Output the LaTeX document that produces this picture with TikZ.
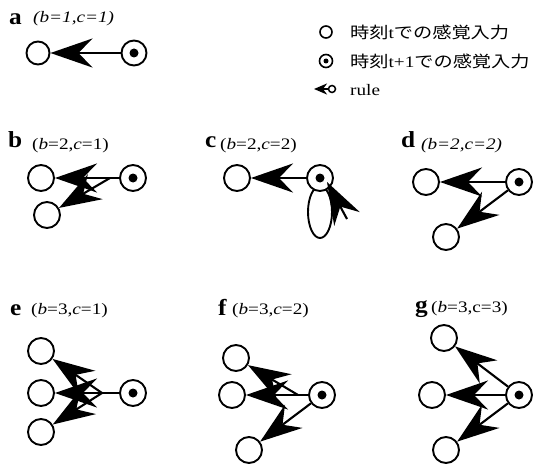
\documentclass[tikz,border=0pt]{standalone}
\usepackage{fontspec}
\usepackage{graphicx}
\setmainfont{Liberation Serif}
\newfontfamily\cjk{Noto Sans CJK JP}
\usetikzlibrary{arrows.meta}
\newcommand\xs[1]{\scalebox{1.2}[1]{#1}}
\newcommand\xl[1]{\scalebox{1.1}[1]{#1}}
\newcommand\prmI[2]{\xs{(\textit{b}=#1,\textit{c}=#2)}}
\newcommand\prmA[2]{\xs{\itshape (b=#1,c=#2)}}
\begin{document}
\begin{tikzpicture}[x=1pt,y=-1pt,
  oc/.style={circle, draw, fill=white, line width=1.9pt, minimum size=26pt, inner sep=0pt},
  dc/.style={oc, label={[circle, fill=black, inner sep=0pt, minimum size=9pt]center:{}}},
  arr/.style={line width=2.1pt, -{Stealth[length=42pt,width=29pt,inset=14pt]}},
  ln/.style={line width=2.1pt},
  lab/.style={anchor=base west, inner sep=0pt, font=\fontsize{23}{23}\selectfont\bfseries},
  prm/.style={anchor=base west, inner sep=0pt, font=\fontsize{16}{16}\selectfont},
  leg/.style={anchor=west, inner sep=0pt, font=\fontsize{16}{16}\selectfont}]
\useasboundingbox (0,0) rectangle (534,465);

% legend
\node[circle, draw, line width=1.6pt, minimum size=12pt, inner sep=0pt] (L1) at (326,32) {};
\node[leg] (T1) at (350,32.5) {\xs{\cjk 時刻{\rmfamily t}での感覚入力}};
\node[circle, draw, line width=1.6pt, minimum size=13pt, inner sep=0pt,
      label={[circle, fill=black, inner sep=0pt, minimum size=5pt]center:{}}] (L2) at (326,61) {};
\node[leg] (T2) at (350,61.5) {\xs{\cjk 時刻{\rmfamily t+1}での感覚入力}};
\node[circle, draw, line width=1.5pt, minimum size=7pt, inner sep=0pt] (L3) at (332,89) {};
\coordinate (L3t) at (314,89);
\draw[line width=1.6pt, -{Stealth[length=13pt,width=11pt,inset=4pt]}] (L3) -- (L3t);
\node[prm] (T3) at (350,96) {\xs{rule}};

% panel a
\node[lab] (la) at (9,25) {\xl{a}};
\node[prm] (pa) at (33,23) {\prmA{1}{1}};
\node[oc, minimum size=23pt] (A1) at (38,53) {};
\node[dc, minimum size=25pt] (A2) at (134,53) {};
\draw[arr] (A2) -- (A1);

% panel b
\node[lab] (lb) at (8,147) {\xl{b}};
\node[prm] (pb) at (32,149) {\prmI{2}{1}};
\node[oc] (B1) at (41,178) {};
\node[oc] (B2) at (47,215) {};
\node[dc] (B3) at (133,178) {};
\coordinate (Bp) at (110,178);
\draw[arr] (B3) -- (B1);
\draw[arr] (Bp) -- (B2);

% panel c
\node[lab] (lc) at (205,147) {\xl{c}};
\node[prm] (pc) at (220,149) {\prmI{2}{2}};
\node[oc] (C1) at (237,178) {};
\draw[line width=1.9pt] (320,212) ellipse [x radius=12, y radius=26];
\node[dc] (C2) at (320,178) {};
\draw[arr] (C2) -- (C1);
\coordinate (Cs) at (347,219);
\coordinate (Ct) at (327,182);
\draw[arr] (Cs) -- (Ct);

% panel d
\node[lab] (ld) at (401,147) {\xl{d}};
\node[prm] (pd) at (421,149) {\prmA{2}{2}};
\node[oc] (D1) at (426,182) {};
\node[oc] (D2) at (446,237) {};
\node[dc] (D3) at (519,182) {};
\draw[arr] (D3) -- (D1);
\draw[arr] (D3) -- (D2);

% panel e
\node[lab] (le) at (10,315) {\xl{e}};
\node[prm] (pe) at (31,314) {\prmI{3}{1}};
\node[oc] (E1) at (41,351) {};
\node[oc] (E2) at (41,393) {};
\node[oc] (E3) at (41,432) {};
\node[dc] (E4) at (133,393) {};
\coordinate (Ep) at (102,393);
\draw[ln] (E4) -- (Ep);
\draw[arr] (Ep) -- (E1);
\draw[arr] (Ep) -- (E2);
\draw[arr] (Ep) -- (E3);

% panel f
\node[lab] (lf) at (218,315) {\xl{f}};
\node[prm] (pf) at (232,314) {\prmI{3}{2}};
\node[oc] (F1) at (236,358) {};
\node[oc] (F2) at (232,395) {};
\node[oc] (F3) at (249,450) {};
\node[dc] (F4) at (322,395) {};
\coordinate (Fp) at (298,395);
\draw[arr] (F4) -- (F2);
\draw[arr] (Fp) -- (F1);
\draw[arr] (F4) -- (F3);

% panel g
\node[lab] (lg) at (415,312) {\xl{g}};
\node[prm] (pg) at (431,312) {\xs{(\textit{b}=3,c=3)}};
\node[oc] (G1) at (444,338) {};
\node[oc] (G2) at (432,395) {};
\node[oc] (G3) at (446,450) {};
\node[dc] (G4) at (519,395) {};
\draw[arr] (G4) -- (G1);
\draw[arr] (G4) -- (G2);
\draw[arr] (G4) -- (G3);
\end{tikzpicture}
\end{document}
